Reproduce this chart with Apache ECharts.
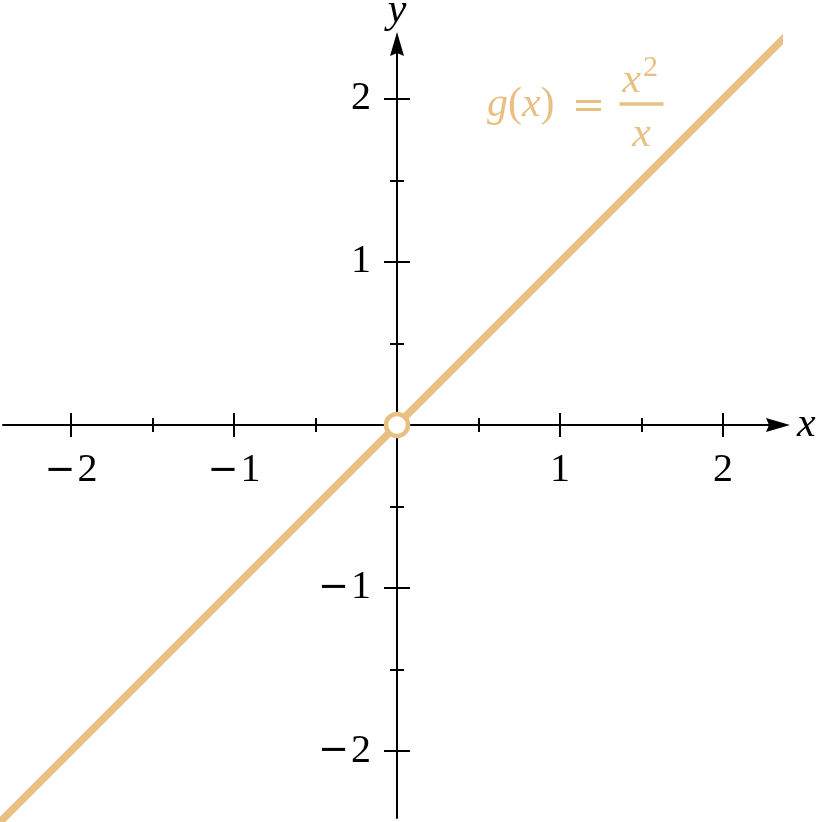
<!DOCTYPE html>
<html lang="en">
<head>
    <meta charset="UTF-8">
    <title>g(x) = x^2 / x</title>
    <script src="https://cdn.jsdelivr.net/npm/echarts@6/dist/echarts.min.js"></script>
    <style>
        html, body { margin: 0; padding: 0; background: #fff; }
        #chart { width: 819px; height: 822px; }
    </style>
</head>
<body>
    <div id="chart"></div>

    <script>
        // Line end points (g(x) = x) and the hole at the origin
        var lineX = [-2.42, 2.40];
        var lineY = [-2.42, 2.40];
        var holeX = [0];
        var holeY = [0];

        // Axis ranges and ticks
        var xRange = [-2.417, 2.337];
        var yRange = [-2.411, 2.337];
        var majorTicks = [-2, -1, 1, 2];
        var minorTicks = [-1.5, -0.5, 0.5, 1.5];

        // Label anchor (centre of the fraction bar), in data units
        var labelAnchor = [1.50, 1.969];

        var orange = '#E8C084';
        var font = 'Liberation Serif';
        var arrow = 'path://M7,0 L14,24 L7,21 L0,24 Z';

        var chart = echarts.init(document.getElementById('chart'));

        function fmt(v) {
            return v < 0 ? '{m|\u2212}' + Math.abs(v) : String(v);
        }
        var labelRich = {
            m: { fontFamily: 'DejaVu Sans', fontSize: 37, color: '#000', padding: [0, 2, 0, 0] }
        };

        // one axis per tick set and side, so ticks cross the axis line
        function tickAxis(dim, values, len, inside) {
            var range = dim === 'x' ? xRange : yRange;
            return {
                type: 'value',
                min: range[0],
                max: range[1],
                position: dim === 'x' ? 'bottom' : 'left',
                axisLine: { show: false, onZero: true },
                axisTick: {
                    show: true,
                    inside: inside,
                    length: len,
                    customValues: values,
                    lineStyle: { color: '#000', width: 2 }
                },
                axisLabel: { show: false },
                splitLine: { show: false }
            };
        }

        // labels only; moved onto the zero line with offset after the first layout
        function labelAxis(dim) {
            var range = dim === 'x' ? xRange : yRange;
            return {
                type: 'value',
                min: range[0],
                max: range[1],
                position: dim === 'x' ? 'bottom' : 'left',
                offset: 0,
                axisLine: { show: false, onZero: false },
                axisTick: { show: false },
                axisLabel: {
                    customValues: majorTicks, formatter: fmt, margin: 26,
                    fontFamily: font, fontSize: 40, color: '#000', rich: labelRich
                },
                splitLine: { show: false }
            };
        }

        var xMain = {
            type: 'value',
            min: xRange[0],
            max: xRange[1],
            position: 'bottom',
            name: 'x',
            nameLocation: 'end',
            nameGap: 19,
            nameTextStyle: { fontFamily: font, fontStyle: 'italic', fontSize: 42, color: '#000', verticalAlign: 'middle', padding: [0, 0, 6, 0] },
            axisLine: {
                onZero: true,
                symbol: ['none', arrow],
                symbolSize: [14, 24],
                lineStyle: { color: '#000', width: 2 }
            },
            axisTick: { show: true, length: 12, customValues: majorTicks, lineStyle: { color: '#000', width: 2 } },
            axisLabel: { show: false },
            splitLine: { show: false }
        };

        var yMain = {
            type: 'value',
            min: yRange[0],
            max: yRange[1],
            position: 'left',
            name: 'y',
            nameLocation: 'end',
            nameGap: 12,
            nameTextStyle: { fontFamily: font, fontStyle: 'italic', fontSize: 42, color: '#000' },
            axisLine: {
                onZero: true,
                symbol: ['none', arrow],
                symbolSize: [14, 24],
                lineStyle: { color: '#000', width: 2 }
            },
            axisTick: { show: true, length: 13, customValues: majorTicks, lineStyle: { color: '#000', width: 2 } },
            axisLabel: { show: false },
            splitLine: { show: false }
        };

        var option = {
            animation: false,
            backgroundColor: '#fff',
            grid: { left: 3, right: 41, top: 44, bottom: 4, containLabel: false, outerBoundsMode: 'none' },
            xAxis: [
                xMain,
                tickAxis('x', majorTicks, 12, true),
                tickAxis('x', minorTicks, 7, false),
                tickAxis('x', minorTicks, 7, true),
                labelAxis('x')
            ],
            yAxis: [
                yMain,
                tickAxis('y', majorTicks, 13, true),
                tickAxis('y', minorTicks, 7, false),
                tickAxis('y', minorTicks, 7, true),
                labelAxis('y')
            ],
            series: [
                {
                    name: 'g(x)',
                    type: 'line',
                    data: lineX.map(function (x, i) { return [x, lineY[i]]; }),
                    symbol: 'none',
                    clip: false,
                    z: 3,
                    lineStyle: { color: orange, width: 7.5, cap: 'round' }
                },
                {
                    name: 'hole',
                    type: 'scatter',
                    data: holeX.map(function (x, i) { return [x, holeY[i]]; }),
                    symbol: 'circle',
                    symbolSize: 22,
                    z: 5,
                    itemStyle: { color: '#fff', borderColor: orange, borderWidth: 4.5, opacity: 1 }
                }
            ]
        };

        chart.setOption(option);

        // move the label axes from the grid edges to the zero lines
        var zeroY = chart.convertToPixel({ yAxisIndex: 0 }, 0);
        var bottomY = chart.convertToPixel({ yAxisIndex: 0 }, yRange[0]);
        var zeroX = chart.convertToPixel({ xAxisIndex: 0 }, 0);
        var leftX = chart.convertToPixel({ xAxisIndex: 0 }, xRange[0]);
        chart.setOption({
            xAxis: [{}, {}, {}, {}, { offset: zeroY - bottomY }],
            yAxis: [{}, {}, {}, {}, { offset: leftX - zeroX }]
        });

        // formula label g(x) = x^2 / x, placed from its data anchor
        var p = chart.convertToPixel({ gridIndex: 0 }, labelAnchor);
        var txt = { fontFamily: font, fontSize: 42, fill: orange };
        chart.setOption({
            graphic: [
                {
                    type: 'text', x: p[0] - 87, y: p[1] + 1, z: 10,
                    style: Object.assign({}, txt, {
                        text: '{i|g}({i|x})',
                        rich: { i: { fontStyle: 'italic', fontFamily: font, fontSize: 42, fill: orange } },
                        align: 'right', verticalAlign: 'middle'
                    })
                },
                {
                    type: 'text', x: p[0] - 53, y: p[1] + 4, z: 10,
                    style: Object.assign({}, txt, { text: '=', fontFamily: 'DejaVu Serif', fontSize: 40, align: 'center', verticalAlign: 'middle' })
                },
                {
                    type: 'rect', x: p[0] - 22, y: p[1] - 1.75, z: 10,
                    shape: { width: 44, height: 3.5 },
                    style: { fill: orange }
                },
                {
                    type: 'text', x: p[0] - 10, y: p[1] - 23.5, z: 10,
                    style: Object.assign({}, txt, { text: 'x', fontStyle: 'italic', align: 'center', verticalAlign: 'middle' })
                },
                {
                    type: 'text', x: p[0] + 9, y: p[1] - 35.5, z: 10,
                    style: Object.assign({}, txt, { text: '2', fontSize: 30, align: 'center', verticalAlign: 'middle' })
                },
                {
                    type: 'text', x: p[0], y: p[1] + 31, z: 10,
                    style: Object.assign({}, txt, { text: 'x', fontStyle: 'italic', align: 'center', verticalAlign: 'middle' })
                }
            ]
        });
    </script>
</body>
</html>
